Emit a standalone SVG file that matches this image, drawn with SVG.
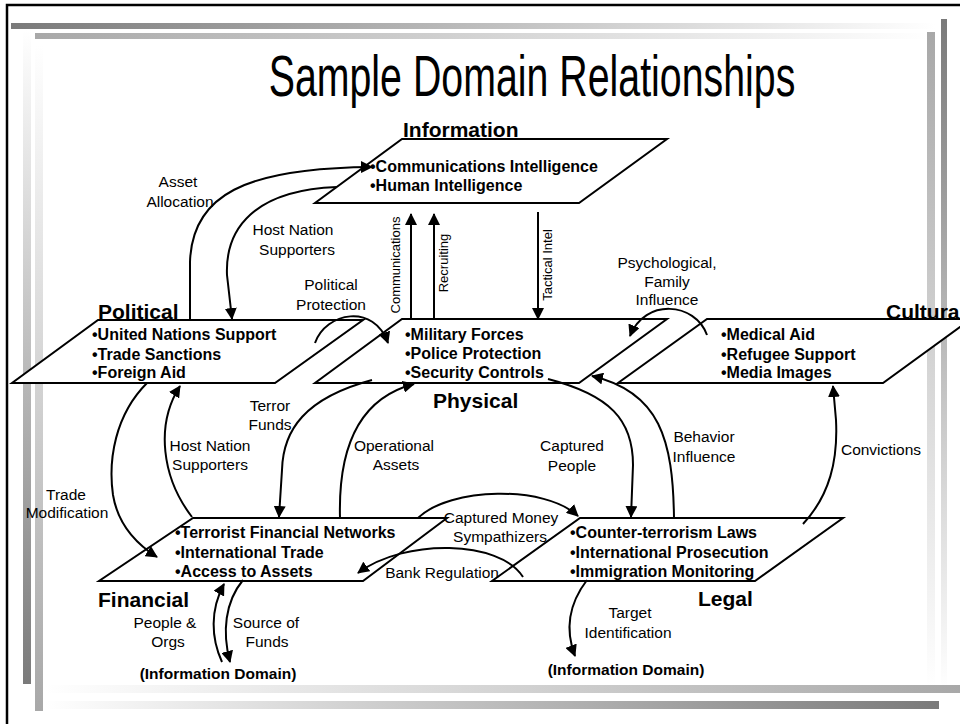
<svg xmlns="http://www.w3.org/2000/svg" width="960" height="724" viewBox="0 0 960 724">
<defs>
<linearGradient id="gH1" x1="0" y1="0" x2="1" y2="0"><stop offset="0" stop-color="#7a7a7a"/><stop offset="1" stop-color="#ffffff"/></linearGradient>
<linearGradient id="gH2" x1="0" y1="0" x2="1" y2="0"><stop offset="0" stop-color="#a8a8a8"/><stop offset="1" stop-color="#ffffff"/></linearGradient>
<linearGradient id="gV1" x1="0" y1="0" x2="0" y2="1"><stop offset="0" stop-color="#7a7a7a"/><stop offset="1" stop-color="#ffffff"/></linearGradient>
<linearGradient id="gV2" x1="0" y1="0" x2="0" y2="1"><stop offset="0" stop-color="#a8a8a8"/><stop offset="1" stop-color="#ffffff"/></linearGradient>
<linearGradient id="gB1" x1="0" y1="0" x2="1" y2="0"><stop offset="0" stop-color="#ffffff"/><stop offset="1" stop-color="#a8a8a8"/></linearGradient>
<linearGradient id="gB2" x1="0" y1="0" x2="1" y2="0"><stop offset="0" stop-color="#ffffff"/><stop offset="1" stop-color="#7a7a7a"/></linearGradient>
<linearGradient id="gL1" x1="0" y1="0" x2="0" y2="1"><stop offset="0" stop-color="#ffffff"/><stop offset="1" stop-color="#7a7a7a"/></linearGradient>
<linearGradient id="gL2" x1="0" y1="0" x2="0" y2="1"><stop offset="0" stop-color="#ffffff"/><stop offset="1" stop-color="#a8a8a8"/></linearGradient>
<marker id="ah" markerWidth="12" markerHeight="12" refX="11" refY="6" orient="auto" markerUnits="userSpaceOnUse"><path d="M0,0 L12,6 L0,12 z" fill="#000"/></marker>
<style>
.dom{fill:#fff;stroke:#000;stroke-width:2}
.con{fill:none;stroke:#000;stroke-width:2;marker-end:url(#ah)}
.lbl{font-family:"Liberation Sans",Arial,sans-serif;font-size:15.5px;fill:#000;text-anchor:middle}
.vlbl{font-family:"Liberation Sans",Arial,sans-serif;font-size:13px;fill:#000;text-anchor:middle}
.name{font-family:"Liberation Sans",Arial,sans-serif;font-size:21px;font-weight:bold;fill:#000}
.bul{font-family:"Liberation Sans",Arial,sans-serif;font-size:16px;font-weight:bold;fill:#000}
.ref{font-family:"Liberation Sans",Arial,sans-serif;font-size:15.5px;font-weight:bold;fill:#000;text-anchor:middle}
</style>
</defs>
<rect width="960" height="724" fill="#fff"/>
<g id="decor">
<rect x="11" y="23" width="924" height="6" fill="url(#gH1)"/>
<rect x="35" y="33" width="895" height="6" fill="url(#gH2)"/>
<rect x="941" y="19" width="6" height="670" fill="url(#gV1)"/>
<rect x="927" y="32" width="8" height="655" fill="url(#gV2)"/>
<rect x="45" y="685" width="915" height="8" fill="url(#gB1)"/>
<rect x="45" y="701" width="894" height="8" fill="url(#gB2)"/>
<rect x="23" y="30" width="8" height="654" fill="url(#gL1)"/>
<rect x="35" y="45" width="8" height="666" fill="url(#gL2)"/>
<path d="M7,724 L7,5 L960,5" fill="none" stroke="#000" stroke-width="2.5"/>
</g>
<g id="title">
<text transform="translate(532,96) scale(0.69,1)" font-family="'Liberation Sans',Arial,sans-serif" font-size="57" text-anchor="middle" fill="#000">Sample Domain Relationships</text>
</g>
<g id="information">
<polygon class="dom" points="402,139 667,139 579,203 315,203"/>
<text class="name" x="403" y="137">Information</text>
<text class="bul" x="370" y="172">•Communications Intelligence</text>
<text class="bul" x="370" y="191">•Human Intelligence</text>
</g>
<g id="political">
<polygon class="dom" points="98,320 363,320 275,383 12,383"/>
<text class="name" x="98" y="319">Political</text>
<text class="bul" x="92" y="340">•United Nations Support</text>
<text class="bul" x="92" y="360">•Trade Sanctions</text>
<text class="bul" x="92" y="378">•Foreign Aid</text>
</g>
<g id="physical">
<polygon class="dom" points="402,319 667,319 579,383 315,383"/>
<text class="name" x="433" y="408">Physical</text>
<text class="bul" x="405" y="340">•Military Forces</text>
<text class="bul" x="405" y="359">•Police Protection</text>
<text class="bul" x="405" y="378">•Security Controls</text>
</g>
<g id="cultural">
<polygon class="dom" points="707,319 971,319 883,383 618,383"/>
<text class="name" x="886" y="319">Cultural</text>
<text class="bul" x="721" y="340">•Medical Aid</text>
<text class="bul" x="721" y="360">•Refugee Support</text>
<text class="bul" x="721" y="378">•Media Images</text>
</g>
<g id="financial">
<polygon class="dom" points="193,518 447,518 363,581 99,581"/>
<text class="name" x="98" y="607">Financial</text>
<text class="bul" x="175" y="538">•Terrorist Financial Networks</text>
<text class="bul" x="175" y="558">•International Trade</text>
<text class="bul" x="175" y="577">•Access to Assets</text>
</g>
<g id="legal">
<polygon class="dom" points="580,518 843,518 755,581 492,581"/>
<text class="name" x="698" y="606">Legal</text>
<text class="bul" x="570" y="538">•Counter-terrorism Laws</text>
<text class="bul" x="570" y="558">•International Prosecution</text>
<text class="bul" x="570" y="577">•Immigration Monitoring</text>
</g>
<g id="info-domain-left"><text class="ref" x="218" y="679">(Information Domain)</text></g>
<g id="info-domain-right"><text class="ref" x="626" y="675">(Information Domain)</text></g>
<g id="connectors">
<path class="con" d="M190,320 L190,262 C192,195 245,168 372,167"/>
<path class="con" d="M337,187 C255,190 225,228 227,275 L232,319"/>
<path class="con" d="M411,319 L411,214"/>
<path class="con" d="M434,319 L434,214"/>
<path class="con" d="M538,212 L538,319"/>
<path class="con" d="M315,343 C326,312 374,303 388,343"/>
<path class="con" d="M707,335 C695,302 645,298 630,336"/>
<path class="con" d="M372,380 C305,398 283,430 282,470 L279,517"/>
<path class="con" d="M192,517 C162,478 155,425 180,386"/>
<path class="con" d="M147,383 C115,415 108,460 113,495 C118,525 138,545 157,557"/>
<path class="con" d="M340,518 C338,445 360,398 414,384"/>
<path class="con" d="M548,379 C610,395 633,420 633,465 L631,517"/>
<path class="con" d="M674,518 C673,440 660,392 592,376"/>
<path class="con" d="M803,524 C830,495 838,460 836,420 L833,386"/>
<path class="con" d="M418,518 C450,487 545,485 578,516"/>
<path class="con" d="M523,577 C500,540 405,538 358,573"/>
<path class="con" d="M222,662 C211,638 210,610 224,584"/>
<path class="con" d="M243,580 C225,602 222,632 230,662"/>
<path class="con" d="M587,580 C568,605 565,630 575,656"/>
</g>
<g id="labels">
<text class="lbl" x="178" y="187">Asset</text>
<text class="lbl" x="180" y="207">Allocation</text>
<text class="lbl" x="293" y="235">Host Nation</text>
<text class="lbl" x="297" y="255">Supporters</text>
<text class="lbl" x="331" y="290">Political</text>
<text class="lbl" x="331" y="310">Protection</text>
<text class="vlbl" transform="translate(400,265) rotate(-90)">Communications</text>
<text class="vlbl" transform="translate(448,263) rotate(-90)">Recruiting</text>
<text class="vlbl" transform="translate(552,265) rotate(-90)">Tactical Intel</text>
<text class="lbl" x="667" y="268">Psychological,</text>
<text class="lbl" x="667" y="287">Family</text>
<text class="lbl" x="667" y="305">Influence</text>
<text class="lbl" x="270" y="411">Terror</text>
<text class="lbl" x="270" y="430">Funds</text>
<text class="lbl" x="210" y="451">Host Nation</text>
<text class="lbl" x="210" y="470">Supporters</text>
<text class="lbl" x="394" y="451">Operational</text>
<text class="lbl" x="396" y="470">Assets</text>
<text class="lbl" x="572" y="451">Captured</text>
<text class="lbl" x="572" y="471">People</text>
<text class="lbl" x="704" y="442">Behavior</text>
<text class="lbl" x="704" y="462">Influence</text>
<text class="lbl" x="881" y="455">Convictions</text>
<text class="lbl" x="66" y="500">Trade</text>
<text class="lbl" x="67" y="518">Modification</text>
<text class="lbl" x="501" y="523">Captured Money</text>
<text class="lbl" x="500" y="542">Sympathizers</text>
<text class="lbl" x="442" y="578">Bank Regulation</text>
<text class="lbl" x="165" y="628">People &amp;</text>
<text class="lbl" x="168" y="647">Orgs</text>
<text class="lbl" x="266" y="628">Source of</text>
<text class="lbl" x="267" y="647">Funds</text>
<text class="lbl" x="630" y="618">Target</text>
<text class="lbl" x="628" y="638">Identification</text>
</g>
</svg>
